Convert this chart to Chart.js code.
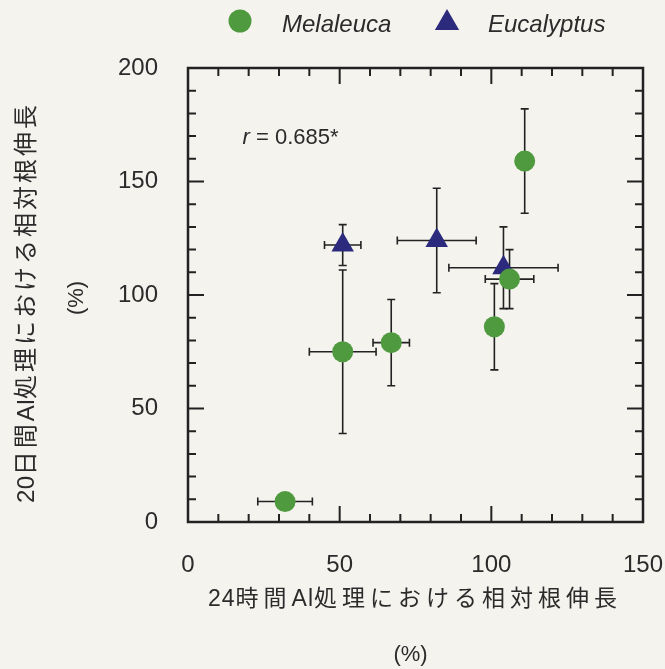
<!DOCTYPE html>
<html>
<head>
<meta charset="utf-8">
<script src="https://cdn.jsdelivr.net/npm/chart.js@4"></script>
<style>
  body { margin: 0; background: #f4f3ee; }
  .c-chart { width: 665px; height: 669px; }
</style>
</head>
<body>
<div class="c-chart"><canvas id="myChart"></canvas></div>
<script>
// Melaleuca (green circles)
const melaleucaX = [32, 51, 67, 101, 106, 111];
const melaleucaY = [9, 75, 79, 86, 107, 159];
const melaleucaXErr = [9, 11, 6, 0, 8, 0];
const melaleucaYErr = [0, 36, 19, 19, 13, 23];

// Eucalyptus (navy triangles)
const eucalyptusX = [51, 82, 104];
const eucalyptusY = [122, 124, 112];
const eucalyptusXErr = [6, 13, 18];
const eucalyptusYErr = [9, 23, 18];

const seriesNames = ['Melaleuca', 'Eucalyptus'];
const xTicks = [0, 50, 100, 150];
const yTicks = [0, 50, 100, 150, 200];
const xTitle = '24時間Al処理における相対根伸長';
const yTitle = '20日間Al処理における相対根伸長';
const unitLabel = '(%)';
const corrLabel = ['r', ' = 0.685*'];

const textColor = '#2b2b2b';
const lineColor = '#222222';
const latin = '"Liberation Sans", Arial, sans-serif';
const cjk = '"Liberation Sans", "Noto Sans CJK JP", sans-serif';

const toPoints = function (xs, ys) {
  return xs.map((x, i) => ({ x: x, y: ys[i] }));
};

// draws text centred on (0,0), wide gaps after CJK glyphs only
const drawSpaced = function (ctx, text, gapWide, gapNarrow) {
  const chars = Array.from(text);
  const adv = chars.map((c) => ctx.measureText(c).width + (c.charCodeAt(0) > 255 ? gapWide : gapNarrow));
  const total = adv.reduce((a, b) => a + b, 0) - gapWide;
  let pos = -total / 2;
  ctx.textAlign = 'left';
  chars.forEach((c, i) => {
    ctx.fillText(c, pos, 0);
    pos += adv[i];
  });
};

// error bars, frame, inward ticks, titles, legend, r label
const decorations = {
  id: 'decorations',
  beforeDatasetsDraw(chart) {
    const { ctx, scales: { x, y } } = chart;
    ctx.save();
    ctx.strokeStyle = lineColor;
    ctx.lineWidth = 1.6;
    const cap = 4;
    chart.data.datasets.forEach((ds) => {
      ds.data.forEach((p, i) => {
        const px = x.getPixelForValue(p.x);
        const py = y.getPixelForValue(p.y);
        const xe = ds.xErr[i];
        const ye = ds.yErr[i];
        ctx.beginPath();
        if (xe > 0) {
          const l = x.getPixelForValue(p.x - xe);
          const r = x.getPixelForValue(p.x + xe);
          ctx.moveTo(l, py); ctx.lineTo(r, py);
          ctx.moveTo(l, py - cap); ctx.lineTo(l, py + cap);
          ctx.moveTo(r, py - cap); ctx.lineTo(r, py + cap);
        }
        if (ye > 0) {
          const t = y.getPixelForValue(p.y + ye);
          const b = y.getPixelForValue(p.y - ye);
          ctx.moveTo(px, t); ctx.lineTo(px, b);
          ctx.moveTo(px - cap, t); ctx.lineTo(px + cap, t);
          ctx.moveTo(px - cap, b); ctx.lineTo(px + cap, b);
        }
        ctx.stroke();
      });
    });
    ctx.restore();
  },
  afterDraw(chart) {
    const { ctx, chartArea: { top, bottom, left, right }, scales: { x, y } } = chart;
    ctx.save();

    // frame
    ctx.strokeStyle = lineColor;
    ctx.lineWidth = 2.5;
    ctx.strokeRect(left, top, right - left, bottom - top);

    // inward ticks on all four sides
    ctx.lineWidth = 2;
    ctx.beginPath();
    x.ticks.forEach((t) => {
      const px = x.getPixelForValue(t.value);
      const len = t.value % 50 === 0 ? 16 : 8;
      ctx.moveTo(px, bottom); ctx.lineTo(px, bottom - len);
      ctx.moveTo(px, top); ctx.lineTo(px, top + len);
    });
    y.ticks.forEach((t) => {
      const py = y.getPixelForValue(t.value);
      const len = t.value % 50 === 0 ? 16 : 8;
      ctx.moveTo(left, py); ctx.lineTo(left + len, py);
      ctx.moveTo(right, py); ctx.lineTo(right - len, py);
    });
    ctx.stroke();

    // axis titles
    ctx.fillStyle = textColor;
    ctx.textBaseline = 'middle';
    ctx.save();
    ctx.translate((left + right) / 2 - 3, bottom + 78);
    ctx.font = '23px ' + cjk;
    drawSpaced(ctx, xTitle, 5, 1);
    ctx.restore();
    ctx.textAlign = 'center';
    ctx.font = '22px ' + latin;
    ctx.fillText(unitLabel, (left + right) / 2 - 5, bottom + 133);

    ctx.save();
    ctx.translate(27, (top + bottom) / 2 + 9);
    ctx.rotate(-Math.PI / 2);
    ctx.font = '24px ' + cjk;
    drawSpaced(ctx, yTitle, 3, 0.5);
    ctx.restore();
    ctx.save();
    ctx.translate(77, (top + bottom) / 2 + 3);
    ctx.rotate(-Math.PI / 2);
    ctx.textAlign = 'center';
    ctx.font = '22px ' + latin;
    ctx.fillText(unitLabel, 0, 0);
    ctx.restore();

    // legend
    const ds = chart.data.datasets;
    const legendItems = [
      { cx: 240, cy: 21, tx: 282, ds: ds[0] },
      { cx: 447, cy: 23, tx: 488, ds: ds[1] },
    ];
    ctx.textAlign = 'left';
    ctx.textBaseline = 'alphabetic';
    ctx.font = 'italic 24px ' + latin;
    legendItems.forEach((it) => {
      ctx.fillStyle = it.ds.backgroundColor;
      ctx.strokeStyle = it.ds.backgroundColor;
      Chart.helpers.drawPoint(ctx, {
        pointStyle: it.ds.pointStyle,
        radius: it.ds.pointRadius + 1,
        borderWidth: 0,
        rotation: 0,
      }, it.cx, it.cy);
      ctx.fillStyle = textColor;
      ctx.fillText(it.ds.label, it.tx, 32);
    });

    // correlation label
    const ax = x.getPixelForValue(18);
    const ay = y.getPixelForValue(169);
    ctx.fillStyle = textColor;
    ctx.textBaseline = 'middle';
    ctx.font = 'italic 22px ' + latin;
    ctx.fillText(corrLabel[0], ax, ay);
    const w = ctx.measureText(corrLabel[0]).width;
    ctx.font = '22px ' + latin;
    ctx.fillText(corrLabel[1], ax + w, ay);

    ctx.restore();
  },
};

const makeChart = function () {
  const data = {
    datasets: [
      {
        label: seriesNames[0],
        data: toPoints(melaleucaX, melaleucaY),
        xErr: melaleucaXErr,
        yErr: melaleucaYErr,
        pointStyle: 'circle',
        pointRadius: 10.5,
        backgroundColor: '#4f9a3e',
        borderColor: '#4f9a3e',
        borderWidth: 0,
      },
      {
        label: seriesNames[1],
        data: toPoints(eucalyptusX, eucalyptusY),
        xErr: eucalyptusXErr,
        yErr: eucalyptusYErr,
        pointStyle: 'triangle',
        pointRadius: 13,
        backgroundColor: '#2b2a7c',
        borderColor: '#2b2a7c',
        borderWidth: 0,
      },
    ],
  };

  const tickFont = { family: latin, size: 24 };

  const config = {
    type: 'scatter',
    data,
    options: {
      responsive: true,
      maintainAspectRatio: false,
      animation: false,
      layout: { padding: { top: 68, right: 22, left: 0, bottom: 0 } },
      plugins: {
        legend: { display: false },
        tooltip: { enabled: false },
      },
      scales: {
        x: {
          min: xTicks[0],
          max: xTicks[xTicks.length - 1],
          grid: { display: false },
          border: { display: false },
          ticks: {
            stepSize: 10,
            autoSkip: false,
            maxRotation: 0,
            padding: 21,
            color: textColor,
            font: tickFont,
            callback: (v) => (xTicks.includes(v) ? v : ''),
          },
          afterFit(scale) {
            scale.height = 147;
            scale.paddingLeft = 0;
            scale.paddingRight = 0;
          },
        },
        y: {
          min: yTicks[0],
          max: yTicks[yTicks.length - 1],
          grid: { display: false },
          border: { display: false },
          ticks: {
            stepSize: 10,
            autoSkip: false,
            padding: 22,
            color: textColor,
            font: tickFont,
            callback: (v) => (yTicks.includes(v) ? v : ''),
          },
          afterFit(scale) {
            scale.width = 188;
            scale.paddingTop = 0;
            scale.paddingBottom = 0;
          },
        },
      },
    },
    plugins: [decorations],
  };

  new Chart(document.getElementById('myChart'), config);
};

document.addEventListener('DOMContentLoaded', makeChart);
</script>
</body>
</html>
